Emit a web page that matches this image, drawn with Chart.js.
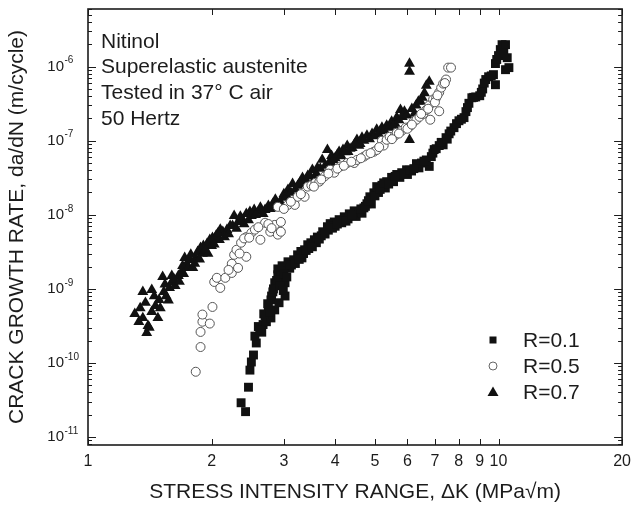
<!DOCTYPE html>
<html lang="en">
<head>
<meta charset="UTF-8">
<title>Nitinol fatigue crack growth</title>
<script src="https://cdn.jsdelivr.net/npm/chart.js"></script>
<style>
  body { margin: 0; background: #fff; }
  #chart { display: block; }
</style>
</head>
<body>
<canvas id="chart" width="638" height="509"></canvas>
<script>
// [ΔK (MPa√m), da/dN (m/cycle)]
const r01 = [
  [2.42,2.2e-11],[2.36,2.9e-11],[2.46,4.7e-11],[2.48,8.0e-11],[2.50,1.03e-10],[2.53,1.28e-10],
  [2.57,1.86e-10],[2.60,3.1e-10],[2.65,2.6e-10],[2.67,3.3e-10],[2.70,4.3e-10],[2.72,3.6e-10],
  [2.75,5.7e-10],[2.79,7.1e-10],[2.79,4.05e-10],[2.80,8.0e-10],[2.82,9.1e-10],[2.85,1.21e-9],
  [2.85,5.2e-10],[2.90,1.55e-9],[2.90,1.86e-9],[2.92,6.5e-10],[2.95,1.5e-9],[2.97,2.05e-9],
  [3.02,1.21e-9],[3.02,8.0e-10],[3.07,2.32e-9],[3.10,1.9e-9],[3.17,2.47e-9],[3.24,2.88e-9],
  [3.30,3.2e-9],[3.32,2.62e-9],[3.37,3.37e-9],[3.43,3.94e-9],[3.45,3.5e-9],[3.49,4.19e-9],
  [3.56,4.6e-9],[3.60,4.2e-9],[3.62,5.0e-9],[3.70,5.2e-9],[3.73,5.9e-9],[3.83,6.9e-9],
  [3.85,6.2e-9],[3.89,7.6e-9],[3.98,8.0e-9],[4.00,7.0e-9],[4.09,8.6e-9],[4.15,7.8e-9],
  [4.21,9.4e-9],[4.30,8.8e-9],[4.33,1.03e-8],[4.45,1.13e-8],[4.50,9.5e-9],[4.57,1.10e-8],
  [4.65,1.05e-8],[4.70,1.24e-8],[4.78,1.41e-8],[4.86,1.75e-8],[4.90,1.4e-8],[4.97,1.98e-8],
  [5.05,2.4e-8],[5.10,2.0e-8],[5.20,2.5e-8],[5.30,2.3e-8],[5.34,2.8e-8],[5.49,3.2e-8],
  [5.55,2.8e-8],[5.65,3.5e-8],[5.75,3.2e-8],[5.81,3.7e-8],[5.97,4.05e-8],[6.00,3.5e-8],
  [6.14,3.9e-8],[6.31,4.9e-8],[6.40,4.3e-8],[6.49,5.0e-8],[6.67,5.5e-8],[6.78,4.5e-8],
  [6.86,6.1e-8],[6.97,7.6e-8],[7.17,8.6e-8],[7.33,8.8e-8],[7.45,1.10e-7],[7.58,1.24e-7],
  [7.79,1.50e-7],[8.01,1.86e-7],[8.24,2.05e-7],[8.33,2.47e-7],[8.47,3.2e-7],[8.61,3.8e-7],
  [8.80,3.9e-7],[9.00,4.05e-7],[9.15,5.0e-7],[9.31,6.7e-7],[9.46,7.3e-7],[9.72,7.8e-7],
  [9.83,5.7e-7],[9.83,1.10e-6],[10.0,1.41e-6],[10.1,1.70e-6],[10.2,1.98e-6],[10.4,1.98e-6],
  [10.4,9.1e-7],[10.5,1.32e-6],[10.6,9.7e-7],
  [2.55,2.3e-10],[2.62,2.8e-10],[2.68,4.6e-10],[2.74,6.3e-10],[2.77,4.8e-10],[2.83,1.0e-9],
  [2.88,1.3e-9],[2.93,1.1e-9],[2.99,9.5e-10],[3.00,1.6e-9],[3.05,1.45e-9],[3.13,2.1e-9],
  [3.20,2.2e-9],[3.27,2.5e-9],[3.35,3.0e-9],[3.40,3.3e-9],[3.52,3.7e-9],[3.66,4.7e-9],
  [3.78,5.5e-9],[3.94,6.6e-9],[4.05,7.5e-9],[4.12,8.3e-9],[4.25,8.2e-9],[4.40,9.8e-9],
  [4.62,1.2e-8],[4.74,1.3e-8],[4.82,1.55e-8],[5.00,1.8e-8],[5.15,2.2e-8],[5.25,2.7e-8],
  [5.40,2.6e-8],[5.60,3.3e-8],[5.90,3.6e-8],[6.07,4.0e-8],[6.22,4.2e-8],[6.58,5.3e-8],
  [6.92,6.8e-8],[7.05,7.8e-8],[7.25,9.5e-8],[7.50,1.05e-7],[7.65,1.35e-7],[7.90,1.7e-7],
  [8.12,1.95e-7],[8.40,2.8e-7],[8.70,3.85e-7],[9.08,4.5e-7],[9.23,6.0e-7],[9.60,7.5e-7],
  [9.90,1.25e-6],[10.3,1.55e-6]
];
const r05 = [
  [1.83,7.6e-11],[1.88,1.64e-10],[1.88,2.62e-10],[1.90,3.6e-10],[1.90,4.5e-10],[1.98,3.4e-10],
  [2.01,5.7e-10],[2.03,1.24e-9],[2.10,1.03e-9],[2.06,1.41e-9],[2.16,1.41e-9],[2.24,1.64e-9],
  [2.24,2.18e-9],[2.32,1.92e-9],[2.27,2.88e-9],[2.30,3.37e-9],[2.36,4.2e-9],[2.43,2.71e-9],
  [2.43,5.0e-9],[2.50,5.7e-9],[2.55,6.3e-9],[2.63,4.6e-9],[2.70,7.8e-9],[2.78,5.9e-9],
  [2.85,7.3e-9],[2.90,5.4e-9],[2.95,8.0e-9],[2.95,5.9e-9],[2.90,1.28e-8],[3.07,1.36e-8],
  [3.19,1.36e-8],[3.24,1.75e-8],[3.37,1.75e-8],[3.43,2.4e-8],[3.50,2.5e-8],[3.58,2.7e-8],
  [3.66,2.8e-8],[3.77,3.3e-8],[3.89,4.05e-8],[3.98,3.7e-8],[4.12,4.5e-8],[4.28,5.0e-8],
  [4.45,5.0e-8],[4.52,5.5e-8],[4.70,6.1e-8],[4.78,6.5e-8],[4.97,7.1e-8],[5.05,7.5e-8],
  [5.20,1.0e-7],[5.25,8.6e-8],[5.34,1.03e-7],[5.43,1.13e-7],[5.59,1.17e-7],[5.65,1.28e-7],
  [5.81,1.36e-7],[5.94,1.50e-7],[6.07,1.55e-7],[6.21,1.81e-7],[6.31,1.92e-7],[6.42,2.1e-7],
  [6.56,2.3e-7],[6.67,2.6e-7],[6.78,3.0e-7],[6.82,1.92e-7],[6.93,3.6e-7],[7.05,3.8e-7],
  [7.17,4.5e-7],[7.17,2.5e-7],[7.25,5.2e-7],[7.33,5.9e-7],[7.45,6.7e-7],[7.54,9.7e-7],
  [7.66,9.7e-7],
  [2.20,1.8e-9],[2.34,3.0e-9],[2.40,4.8e-9],[2.47,4.9e-9],[2.60,6.8e-9],[2.75,7.5e-9],
  [2.80,6.6e-9],[3.00,1.2e-8],[3.12,1.5e-8],[3.30,1.9e-8],[3.55,2.4e-8],[3.70,3.0e-8],
  [3.85,3.6e-8],[4.05,4.2e-8],[4.20,4.6e-8],[4.38,5.2e-8],[4.62,5.8e-8],[4.88,6.8e-8],
  [5.12,8.2e-8],[5.50,1.05e-7],[5.72,1.25e-7],[6.00,1.45e-7],[6.15,1.65e-7],[6.48,2.3e-7],
  [6.74,2.7e-7],[7.00,3.3e-7],[7.10,4.1e-7],[7.40,6.0e-7]
];
const r07 = [
  [1.30,4.6e-10],[1.33,3.6e-10],[1.36,9.1e-10],[1.36,4.05e-10],[1.39,2.54e-10],[1.40,3.16e-10],
  [1.43,9.7e-10],[1.43,4.9e-10],[1.46,5.9e-10],[1.48,4.05e-10],[1.49,7.1e-10],[1.52,1.45e-9],
  [1.53,9.1e-10],[1.55,8.0e-10],[1.58,1.03e-9],[1.60,1.24e-9],[1.60,1.50e-9],[1.63,1.10e-9],
  [1.66,1.50e-9],[1.69,1.70e-9],[1.70,2.05e-9],[1.72,2.62e-9],[1.74,2.18e-9],[1.75,1.92e-9],
  [1.77,2.47e-9],[1.80,1.92e-9],[1.83,2.62e-9],[1.85,3.16e-9],[1.88,3.58e-9],[1.90,3.0e-9],
  [1.91,3.81e-9],[1.95,4.05e-9],[1.98,4.6e-9],[2.00,3.8e-9],[2.01,4.89e-9],[2.05,5.2e-9],
  [2.09,4.6e-9],[2.10,6.3e-9],[2.13,5.89e-9],[2.18,6.27e-9],[2.22,7.1e-9],[2.25,7.1e-9],
  [2.27,9.7e-9],[2.32,8.0e-9],[2.38,8.56e-9],[2.43,1.03e-8],[2.48,1.10e-8],[2.50,9.7e-9],
  [2.54,1.17e-8],[2.60,1.10e-8],[2.67,1.03e-8],[2.70,1.17e-8],[2.75,1.32e-8],[2.82,1.41e-8],
  [2.90,1.41e-8],[2.98,1.70e-8],[3.00,1.9e-8],[3.07,2.18e-8],[3.15,2.62e-8],[3.20,2.2e-8],
  [3.24,2.47e-8],[3.33,3.16e-8],[3.40,2.9e-8],[3.43,3.37e-8],[3.52,4.05e-8],[3.60,3.6e-8],
  [3.62,4.31e-8],[3.72,5.54e-8],[3.83,7.55e-8],[3.90,5.2e-8],[3.92,6.27e-8],[4.00,5.89e-8],
  [4.09,7.1e-8],[4.18,7.55e-8],[4.28,8.56e-8],[4.30,7.1e-8],[4.40,8.04e-8],[4.52,1.03e-7],
  [4.60,9.1e-8],[4.65,1.10e-7],[4.78,1.17e-7],[4.92,1.24e-7],[5.05,1.41e-7],[5.10,1.24e-7],
  [5.20,1.50e-7],[5.34,1.60e-7],[5.49,1.81e-7],[5.60,1.70e-7],[5.65,2.05e-7],[5.77,2.62e-7],
  [5.90,2.47e-7],[6.07,1.03e-7],[6.07,1.10e-6],[6.07,8.56e-7],[6.24,2.32e-7],[6.38,3.37e-7],
  [6.52,3.81e-7],[6.67,5.54e-7],[6.78,6.27e-7],
  [1.34,5.5e-10],[1.38,6.5e-10],[1.41,3.0e-10],[1.45,8.0e-10],[1.50,5.5e-10],[1.54,1.15e-9],
  [1.57,7.0e-10],[1.62,1.35e-9],[1.67,1.25e-9],[1.71,1.6e-9],[1.78,2.9e-9],[1.82,2.2e-9],
  [1.87,2.5e-9],[1.93,3.3e-9],[1.96,3.0e-9],[2.03,4.0e-9],[2.07,5.6e-9],[2.15,5.0e-9],
  [2.20,5.5e-9],[2.30,6.5e-9],[2.35,9.5e-9],[2.40,7.5e-9],[2.46,8.5e-9],[2.56,1.0e-8],
  [2.63,1.25e-8],[2.78,1.2e-8],[2.86,1.6e-8],[2.94,1.5e-8],[3.05,1.8e-8],[3.12,2.0e-8],
  [3.28,2.7e-8],[3.36,2.6e-8],[3.48,3.3e-8],[3.56,3.0e-8],[3.68,4.2e-8],[3.78,4.6e-8],
  [3.86,5.0e-8],[3.96,5.5e-8],[4.05,6.5e-8],[4.14,6.2e-8],[4.23,7.0e-8],[4.35,7.8e-8],
  [4.46,9.0e-8],[4.57,8.6e-8],[4.70,1.0e-7],[4.85,1.05e-7],[4.98,1.15e-7],[5.15,1.35e-7],
  [5.27,1.38e-7],[5.42,1.5e-7],[5.55,1.6e-7],[5.72,1.9e-7],[5.83,2.1e-7],[5.98,2.2e-7],
  [6.15,2.7e-7],[6.30,3.0e-7],[6.45,3.4e-7],[6.60,4.4e-7]
];

const xTickLabels = [1, 2, 3, 4, 5, 6, 7, 8, 9, 10, 20];
const yLabelExponents = [-11, -10, -9, -8, -7, -6];
const yTickDecades = [-12, -11, -10, -9, -8, -7, -6];
const notes = ['Nitinol', 'Superelastic austenite', 'Tested in 37\u00b0 C air', '50 Hertz'];
const seriesNames = ['R=0.1', 'R=0.5', 'R=0.7'];

const FONT = '"Liberation Sans", Arial, Helvetica, sans-serif';
const INK = '#1c1c1c';

const toPoints = rows => rows.map(([k, r]) => ({x: k, y: r}));

// frame, inward ticks, y labels with exponents, notes and legend
const decorations = {
  id: 'decorations',
  afterDraw(chart) {
    const {ctx, chartArea: a, scales: {x, y}} = chart;
    ctx.save();
    ctx.strokeStyle = INK;
    ctx.lineWidth = 1;
    ctx.beginPath();
    xTickLabels.forEach(v => {
      const px = Math.round(x.getPixelForValue(v)) + 0.5;
      ctx.moveTo(px, a.bottom); ctx.lineTo(px, a.bottom - 6);
      ctx.moveTo(px, a.top); ctx.lineTo(px, a.top + 6);
    });
    yTickDecades.forEach(e => {
      for (let m = 1; m <= 9; m++) {
        const v = m * Math.pow(10, e);
        if (v < y.min || v > y.max) continue;
        const py = Math.round(y.getPixelForValue(v)) + 0.5;
        const len = m === 1 ? 8 : 4;
        ctx.moveTo(a.left, py); ctx.lineTo(a.left + len, py);
        ctx.moveTo(a.right, py); ctx.lineTo(a.right - len, py);
      }
    });
    ctx.stroke();
    ctx.lineWidth = 1.6;
    ctx.strokeRect(a.left, a.top, a.right - a.left, a.bottom - a.top);

    // y tick labels 10^n
    ctx.fillStyle = INK;
    yLabelExponents.forEach(e => {
      const py = y.getPixelForValue(Math.pow(10, e));
      ctx.font = '15px ' + FONT;
      ctx.textAlign = 'right';
      ctx.textBaseline = 'middle';
      ctx.fillText('10', 64, py);
      ctx.font = '10px ' + FONT;
      ctx.textAlign = 'left';
      ctx.fillText('-' + Math.abs(e), 64.5, py - 6);
    });

    // notes, top left
    ctx.font = '21px ' + FONT;
    ctx.textAlign = 'left';
    ctx.textBaseline = 'middle';
    notes.forEach((t, i) => ctx.fillText(t, a.left + 13, a.top + 33 + i * 25.7));

    // legend, lower right
    const lx = a.left + 405, tx = a.left + 435;
    seriesNames.forEach((name, i) => {
      const ly = a.top + 331 + i * 26;
      ctx.beginPath();
      if (i === 0) {
        ctx.fillStyle = '#111';
        ctx.fillRect(lx - 3.5, ly - 3.5, 7, 7);
      } else if (i === 1) {
        ctx.fillStyle = '#fff';
        ctx.strokeStyle = '#666';
        ctx.lineWidth = 1;
        ctx.arc(lx, ly, 4, 0, Math.PI * 2);
        ctx.fill();
        ctx.stroke();
      } else {
        ctx.fillStyle = '#111';
        ctx.moveTo(lx, ly - 5.5);
        ctx.lineTo(lx + 5.5, ly + 4);
        ctx.lineTo(lx - 5.5, ly + 4);
        ctx.closePath();
        ctx.fill();
      }
      ctx.fillStyle = INK;
      ctx.font = '21px ' + FONT;
      ctx.fillText(name, tx, ly + 1);
    });
    ctx.restore();
  }
};

Chart.defaults.color = INK;
Chart.defaults.font.family = FONT;

new Chart(document.getElementById('chart'), {
  type: 'scatter',
  data: {
    datasets: [
      {
        label: seriesNames[0],
        data: toPoints(r01),
        pointStyle: 'rect',
        radius: 6.3,
        backgroundColor: '#111',
        borderWidth: 0,
        order: 3
      },
      {
        label: seriesNames[1],
        data: toPoints(r05),
        pointStyle: 'circle',
        radius: 4.5,
        backgroundColor: '#fff',
        borderColor: '#555',
        borderWidth: 1,
        order: 1
      },
      {
        label: seriesNames[2],
        data: toPoints(r07),
        pointStyle: 'triangle',
        radius: 6.3,
        backgroundColor: '#111',
        borderWidth: 0,
        order: 2
      }
    ]
  },
  options: {
    responsive: false,
    animation: false,
    layout: { padding: { top: 9, right: 10, left: 0, bottom: 0 } },
    plugins: { legend: { display: false }, tooltip: { enabled: false } },
    scales: {
      x: {
        type: 'logarithmic',
        min: 1,
        max: 20,
        grid: { display: false, drawTicks: false },
        border: { display: false },
        afterBuildTicks: scale => { scale.ticks = xTickLabels.map(v => ({ value: v })); },
        afterFit: scale => { scale.height = 64; },
        ticks: {
          autoSkip: false,
          maxRotation: 0,
          padding: 7,
          font: { size: 16 },
          callback: v => String(v)
        },
        title: {
          display: true,
          text: 'STRESS INTENSITY RANGE, \u0394K (MPa\u221am)',
          font: { size: 21 },
          padding: { top: 0, bottom: 4 }
        }
      },
      y: {
        type: 'logarithmic',
        min: 7.8e-12,
        max: 6e-6,
        grid: { display: false, drawTicks: false },
        border: { display: false },
        ticks: { display: false },
        afterFit: scale => { scale.width = 88; },
        title: {
          display: true,
          text: 'CRACK GROWTH RATE, da/dN (m/cycle)',
          font: { size: 21 },
          padding: { top: 5, bottom: 0 }
        }
      }
    }
  },
  plugins: [decorations]
});
</script>
</body>
</html>
